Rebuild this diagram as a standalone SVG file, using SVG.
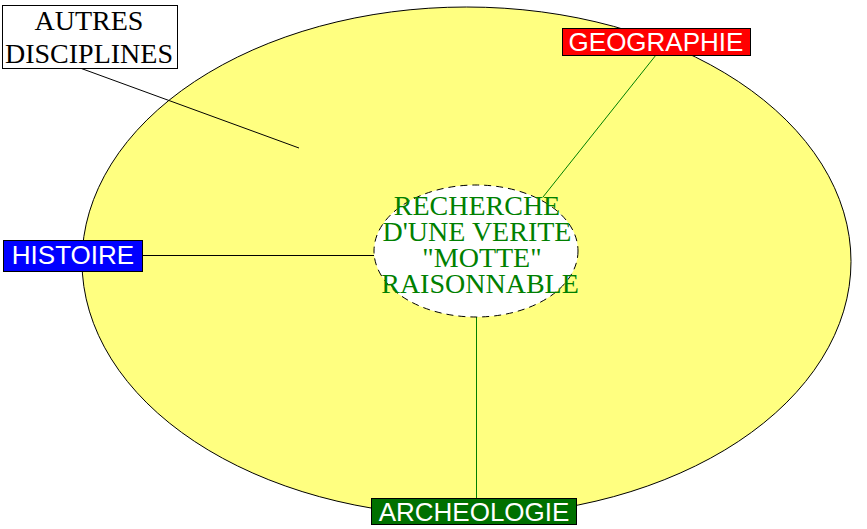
<svg xmlns="http://www.w3.org/2000/svg" width="867" height="529" viewBox="0 0 867 529">
<style>
.serif{font-family:"Liberation Serif","Times New Roman",serif;font-size:28px;text-anchor:middle}
.sans{font-family:"Liberation Sans",Arial,sans-serif;font-size:26px;fill:#fff;text-anchor:middle}
.box{stroke:#000;stroke-width:1}
.conn{fill:none;stroke-width:1}
</style>
<rect width="867" height="529" fill="#fff"/>
<g id="domaine">
<ellipse cx="466.5" cy="261.5" rx="384.5" ry="254.5" fill="#ffff80" stroke="#000" stroke-width="1"/>
</g>
<g id="connectors">
<line class="conn" x1="80" y1="68" x2="299" y2="148" stroke="#000"/>
<line class="conn" x1="656" y1="55" x2="543" y2="197" stroke="#008000"/>
<line class="conn" x1="142" y1="255.5" x2="374" y2="255.5" stroke="#000"/>
<line class="conn" x1="476.5" y1="317" x2="476.5" y2="498" stroke="#008000"/>
</g>
<g id="centre">
<ellipse cx="476" cy="251" rx="102" ry="66" fill="#fff" stroke="#000" stroke-width="1" stroke-dasharray="7,5"/>
<text class="serif" fill="#008000"><tspan x="477" y="215">RECHERCHE</tspan><tspan x="477" y="241">D'UNE VERITE</tspan><tspan x="482" y="267">"MOTTE"</tspan><tspan x="480" y="293">RAISONNABLE</tspan></text>
</g>
<g id="autres">
<rect class="box" x="2.5" y="5.5" width="175" height="63" fill="#fff"/>
<text class="serif" fill="#000"><tspan x="89" y="30">AUTRES</tspan><tspan x="89" y="63">DISCIPLINES</tspan></text>
</g>
<g id="geographie">
<rect class="box" x="562.5" y="28.5" width="188" height="27" fill="#ff0000"/>
<text class="sans" x="656" y="51">GEOGRAPHIE</text>
</g>
<g id="histoire">
<rect class="box" x="3.5" y="240.5" width="139" height="31" fill="#0000ff"/>
<text class="sans" x="73" y="264">HISTOIRE</text>
</g>
<g id="archeologie">
<rect class="box" x="371.5" y="498.5" width="205" height="26" fill="#007000"/>
<text class="sans" x="474" y="521">ARCHEOLOGIE</text>
</g>
</svg>
